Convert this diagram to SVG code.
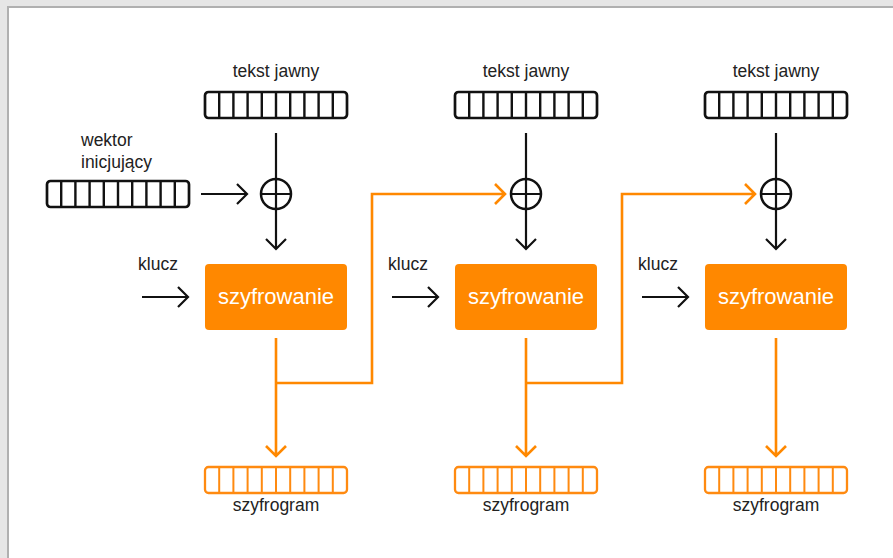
<svg xmlns="http://www.w3.org/2000/svg" width="893" height="558" viewBox="0 0 893 558">
<defs>
<style>
.lbl{font-family:"Liberation Sans",Arial,sans-serif;font-size:17.5px;fill:#222;text-anchor:middle}
.lbl-l{font-family:"Liberation Sans",Arial,sans-serif;font-size:17.5px;fill:#222}
.box{fill:#ff8800}
.boxt{font-family:"Liberation Sans",Arial,sans-serif;font-size:22px;fill:#fff;text-anchor:middle}
.reg{fill:#fff;stroke:#111;stroke-width:2.7}
.regc{stroke:#111;stroke-width:2.4}
.oreg{fill:#fff;stroke:#ff8a10;stroke-width:2.3}
.oregc{stroke:#ff8a10;stroke-width:2}
.bl{stroke:#111;stroke-width:2.2;fill:none}
.ol{stroke:#ff8800;stroke-width:2.6;fill:none}
</style>
<g id="blackreg">
<rect class="reg" x="0" y="0" width="142" height="26" rx="3.5"/>
<path class="regc" d="M14.2 0V26M28.4 0V26M42.6 0V26M56.8 0V26M71 0V26M85.2 0V26M99.4 0V26M113.6 0V26M127.8 0V26"/>
</g>
<g id="orangereg">
<rect class="oreg" x="0" y="0" width="142" height="26" rx="3.5"/>
<path class="oregc" d="M14.2 0V26M28.4 0V26M42.6 0V26M56.8 0V26M71 0V26M85.2 0V26M99.4 0V26M113.6 0V26M127.8 0V26"/>
</g>
</defs>
<rect x="0" y="0" width="893" height="558" fill="#e6e6e6"/>
<rect x="7" y="6" width="886" height="552" fill="#b0b0b0"/>
<rect x="9" y="8" width="884" height="550" fill="#fff"/>

<g id="connectors">
<path class="bl" d="M201 194H247M237 184L247 194L237 204"/>
<path class="bl" d="M276 133V249M266 239L276 249L286 239"/>
<path class="bl" d="M526 133V249M516 239L526 249L536 239"/>
<path class="bl" d="M776 133V249M766 239L776 249L786 239"/>
<path class="bl" d="M142 297H188M178 287L188 297L178 307"/>
<path class="bl" d="M392 297H438M428 287L438 297L428 307"/>
<path class="bl" d="M642 297H688M678 287L688 297L678 307"/>
<path class="ol" d="M276 338V456M266 446L276 456L286 446"/>
<path class="ol" d="M526 338V456M516 446L526 456L536 446"/>
<path class="ol" d="M776 338V456M766 446L776 456L786 446"/>
<path class="ol" d="M276 383H372V194H505M495 184L505 194L495 204"/>
<path class="ol" d="M526 383H622V194H755M745 184L755 194L745 204"/>
</g>

<g id="iv">
<text class="lbl-l" x="81" y="146">wektor</text>
<text class="lbl-l" x="81" y="168">inicjujący</text>
<use href="#blackreg" x="47" y="181"/>
</g>

<g id="col1">
<g id="pt1"><text class="lbl" x="276" y="77">tekst jawny</text><use href="#blackreg" x="205" y="92"/></g>
<g id="xor1"><circle cx="276" cy="194" r="15" fill="#fff" stroke="#111" stroke-width="2.5"/><path class="bl" d="M261 194H291M276 179V209" stroke-width="2.5"/></g>
<g id="key1"><text class="lbl" x="158" y="270">klucz</text></g>
<g id="enc1"><rect class="box" x="205" y="264" width="142" height="66" rx="4"/><text class="boxt" x="276" y="304">szyfrowanie</text></g>
<g id="ct1"><use href="#orangereg" x="205" y="467"/><text class="lbl" x="276" y="511">szyfrogram</text></g>
</g>

<g id="col2">
<g id="pt2"><text class="lbl" x="526" y="77">tekst jawny</text><use href="#blackreg" x="455" y="92"/></g>
<g id="xor2"><circle cx="526" cy="194" r="15" fill="#fff" stroke="#111" stroke-width="2.5"/><path class="bl" d="M511 194H541M526 179V209" stroke-width="2.5"/></g>
<g id="key2"><text class="lbl" x="408" y="270">klucz</text></g>
<g id="enc2"><rect class="box" x="455" y="264" width="142" height="66" rx="4"/><text class="boxt" x="526" y="304">szyfrowanie</text></g>
<g id="ct2"><use href="#orangereg" x="455" y="467"/><text class="lbl" x="526" y="511">szyfrogram</text></g>
</g>

<g id="col3">
<g id="pt3"><text class="lbl" x="776" y="77">tekst jawny</text><use href="#blackreg" x="705" y="92"/></g>
<g id="xor3"><circle cx="776" cy="194" r="15" fill="#fff" stroke="#111" stroke-width="2.5"/><path class="bl" d="M761 194H791M776 179V209" stroke-width="2.5"/></g>
<g id="key3"><text class="lbl" x="658" y="270">klucz</text></g>
<g id="enc3"><rect class="box" x="705" y="264" width="142" height="66" rx="4"/><text class="boxt" x="776" y="304">szyfrowanie</text></g>
<g id="ct3"><use href="#orangereg" x="705" y="467"/><text class="lbl" x="776" y="511">szyfrogram</text></g>
</g>
</svg>
